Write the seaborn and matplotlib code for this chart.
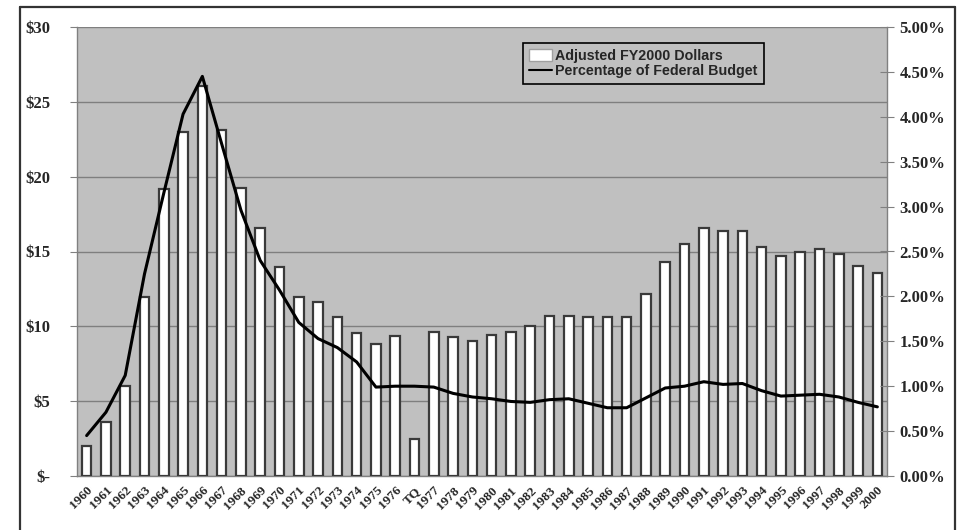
import numpy as np
import pandas as pd
import matplotlib
matplotlib.use("Agg")
import matplotlib.pyplot as plt
import matplotlib.transforms as mtransforms
from matplotlib.lines import Line2D
from matplotlib.patches import Patch
from matplotlib.ticker import FuncFormatter, MultipleLocator
import seaborn as sns

years = [str(y) for y in range(1960, 1977)] + ["TQ"] + [str(y) for y in range(1977, 2001)]
dollars = [2.0, 3.6, 6.0, 11.95, 19.2, 23.0, 26.05, 23.15, 19.25, 16.55, 13.95, 11.95, 11.6,
           10.6, 9.55, 8.8, 9.35, 2.5, 9.6, 9.3, 9.0, 9.4, 9.6, 10.05, 10.7, 10.7, 10.6,
           10.6, 10.6, 12.15, 14.3, 15.5, 16.6, 16.4, 16.4, 15.3, 14.7, 14.95, 15.15, 14.8,
           14.0, 13.55]
pct_budget = [0.45, 0.71, 1.12, 2.25, 3.15, 4.03, 4.45, 3.70, 2.96, 2.40, 2.07, 1.71, 1.53,
              1.43, 1.27, 0.99, 1.00, 1.00, 0.99, 0.92, 0.88, 0.86, 0.83, 0.82, 0.85, 0.86,
              0.81, 0.76, 0.76, 0.87, 0.98, 1.00, 1.05, 1.02, 1.03, 0.95, 0.89, 0.90, 0.91,
              0.88, 0.82, 0.77]

df = pd.DataFrame({"year": years, "dollars": dollars, "pct": pct_budget})
df["pos"] = np.arange(len(df))

sns.set_style("white")
plt.rcParams["font.family"] = ["Liberation Serif", "DejaVu Serif"]

fig = plt.figure(figsize=(9.63, 5.30), dpi=100)
ax = fig.add_axes([77 / 963, 1 - 476 / 530, 810 / 963, 449 / 530])
ax.set_facecolor("#c0c0c0")

sns.barplot(data=df, x="year", y="dollars", ax=ax, color="white", width=0.5,
            edgecolor="#3a3a3a", linewidth=1.6, saturation=1, zorder=3)

ax.set_ylim(0, 30)
ax.set_xlim(-0.5, len(df) - 0.5)
ax.yaxis.set_major_locator(MultipleLocator(5))
ax.yaxis.set_major_formatter(FuncFormatter(lambda v, p: "$-" if v == 0 else f"${v:.0f}"))
ax.grid(axis="y", color="#7f7f7f", linewidth=1.0, zorder=0)
ax.set_axisbelow(True)
ax.set_xlabel("")
ax.set_ylabel("")

# x ticks at category boundaries, labels at centers
ax.set_xticks(np.arange(len(df)))
ax.set_xticklabels(years, rotation=45, ha="right", rotation_mode="anchor",
                   fontsize=9.5, fontweight="bold")
offset = mtransforms.ScaledTranslation(-5 / 100, -3 / 100, fig.dpi_scale_trans)
for lab in ax.get_xticklabels():
    lab.set_transform(lab.get_transform() + offset)
ax.set_xticks(np.arange(len(df) + 1) - 0.5, minor=True)
ax.tick_params(axis="x", which="major", length=0, pad=6)
ax.tick_params(axis="x", which="minor", length=5, color="#808080", direction="out")
ax.tick_params(axis="y", length=5, color="#808080", direction="out", labelsize=12, pad=14)
for t in ax.get_yticklabels():
    t.set_fontweight("bold")

for s in ["top", "right"]:
    ax.spines[s].set_visible(False)
for s in ["left", "bottom"]:
    ax.spines[s].set_color("#808080")
    ax.spines[s].set_linewidth(1.0)

ax2 = ax.twinx()
sns.lineplot(data=df, x="pos", y="pct", ax=ax2, color="black", linewidth=2.2, zorder=5)
for ln in ax2.get_lines():
    ln.set_solid_joinstyle("round")
    ln.set_solid_capstyle("round")
ax2.set_ylim(0, 5)
ax2.set_xlim(-0.5, len(df) - 0.5)
ax2.yaxis.set_major_locator(MultipleLocator(0.5))
ax2.yaxis.set_major_formatter(FuncFormatter(lambda v, p: f"{v:.2f}%"))
ax2.tick_params(axis="y", length=10, color="#808080", direction="inout", labelsize=12, pad=4)
for t in ax2.get_yticklabels():
    t.set_fontweight("bold")
ax2.set_ylabel("")
ax2.set_xlabel("")
for s in ["top", "left", "bottom"]:
    ax2.spines[s].set_visible(False)
ax2.spines["right"].set_color("#808080")
ax2.spines["right"].set_linewidth(1.0)

handles = [Patch(facecolor="white", edgecolor="#a0a0a0", linewidth=1.0),
           Line2D([0], [0], color="black", linewidth=1.5)]
labels = ["Adjusted FY2000 Dollars", "Percentage of Federal Budget"]
leg = ax2.legend(handles, labels, loc="upper left", bbox_to_anchor=(0.551, 0.964),
                 borderaxespad=0, frameon=True, fancybox=False, framealpha=1,
                 facecolor="#c0c0c0", edgecolor="black", handlelength=1.6, handleheight=0.9,
                 handletextpad=0.25, labelspacing=0.1, borderpad=0.4,
                 prop={"family": "Liberation Sans", "weight": "bold", "size": 10.3})
leg.get_frame().set_linewidth(1.2)

# outer border (top, left, right)
for xs, ys in [([20 / 963, 955 / 963], [1 - 7 / 530, 1 - 7 / 530]),
               ([20 / 963, 20 / 963], [1 - 7 / 530, 0]),
               ([955 / 963, 955 / 963], [1 - 7 / 530, 0])]:
    fig.add_artist(Line2D(xs, ys, color="#333333", linewidth=1.6, transform=fig.transFigure))

fig.savefig("out.png", dpi=100, facecolor="white")
